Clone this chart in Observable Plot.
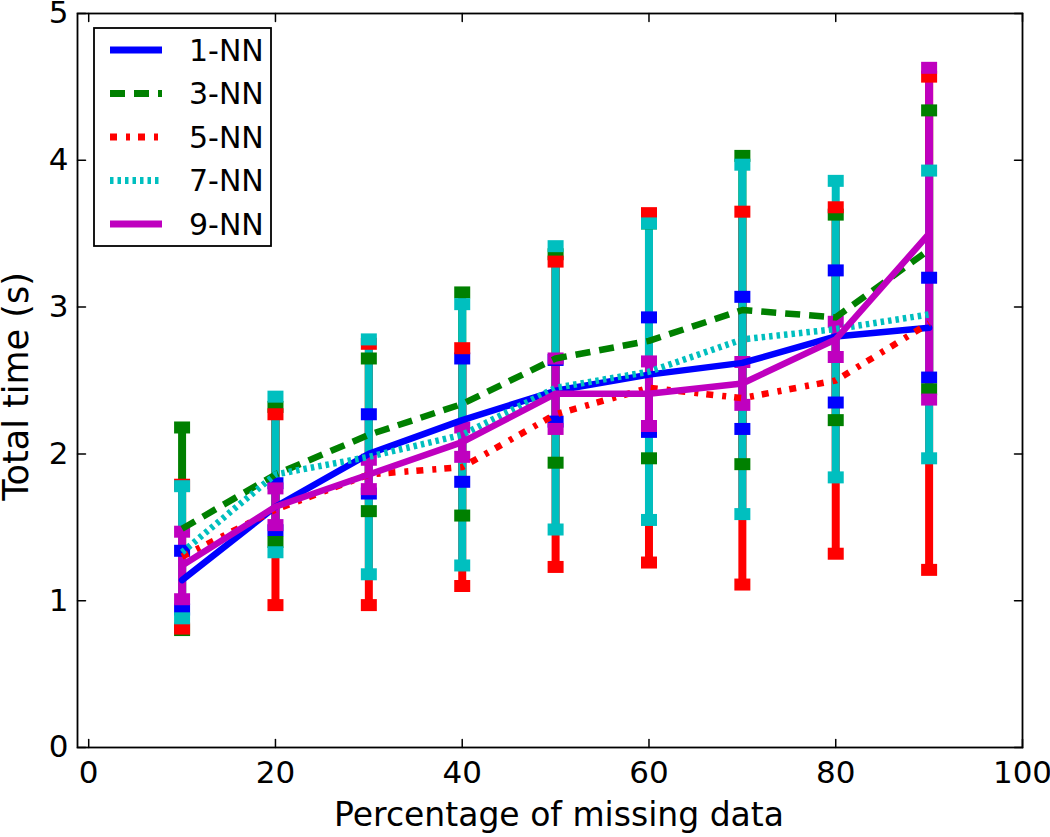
<!DOCTYPE html>
<html>
<head>
<meta charset="utf-8">
<script src="https://cdn.jsdelivr.net/npm/d3@7"></script>
<script src="https://cdn.jsdelivr.net/npm/@observablehq/plot@0.6"></script>
<style>
  html, body { margin: 0; padding: 0; background: #fff; }
  #wrap { position: relative; width: 1050px; height: 837px; font-family: "DejaVu Sans", sans-serif; }
  #legend { position: absolute; left: 93px; top: 27px; }
</style>
</head>
<body>
<div id="wrap"></div>
<script>
// ---- data ----
const missing = [10, 20, 30, 40, 50, 60, 70, 80, 90];
const seriesNames = ["1-NN", "3-NN", "5-NN", "7-NN", "9-NN"];
const seriesColors = ["#0000ff", "#008000", "#ff0000", "#00bfbf", "#bf00bf"];
const seriesDash = [null, "15,9", "7,9,4,8", "3.5,4", null];

const mean1 = [1.14, 1.64, 2.00, 2.23, 2.43, 2.54, 2.62, 2.80, 2.86];
const sd1   = [0.20, 0.16, 0.27, 0.42, 0.21, 0.39, 0.45, 0.45, 0.34];
const mean3 = [1.49, 1.86, 2.13, 2.34, 2.65, 2.77, 2.98, 2.93, 3.39];
const sd3   = [0.69, 0.46, 0.52, 0.76, 0.71, 0.80, 1.05, 0.70, 0.95];
const mean5 = [1.30, 1.62, 1.86, 1.91, 2.27, 2.45, 2.38, 2.50, 2.89];
const sd5   = [0.49, 0.65, 0.89, 0.81, 1.04, 1.19, 1.27, 1.18, 1.68];
const mean7 = [1.33, 1.86, 1.98, 2.13, 2.45, 2.56, 2.78, 2.85, 2.95];
const sd7   = [0.45, 0.53, 0.80, 0.89, 0.965, 1.01, 1.19, 1.01, 0.98];
const mean9 = [1.24, 1.64, 1.86, 2.08, 2.41, 2.41, 2.48, 2.78, 3.50];
const sd9   = [0.23, 0.125, 0.10, 0.10, 0.24, 0.22, 0.146, 0.12, 1.13];

const xTicks = [0, 20, 40, 60, 80, 100];
const yTicks = [0, 1, 2, 3, 4, 5];
const xLabel = "Percentage of missing data";
const yLabel = "Total time (s)";

// ---- build table ----
const means = [mean1, mean3, mean5, mean7, mean9];
const sds = [sd1, sd3, sd5, sd7, sd9];
const rows = [];
seriesNames.forEach((s, k) => {
  missing.forEach((x, i) => {
    rows.push({series: s, x, mean: means[k][i], lo: means[k][i] - sds[k][i], hi: means[k][i] + sds[k][i]});
  });
});
const caps = rows.flatMap(d => [{series: d.series, x: d.x, y: d.lo}, {series: d.series, x: d.x, y: d.hi}]);

const capSymbol = {draw(context) { context.rect(-8, -6, 16, 12); }};
const tickShape = {draw(context, l) { context.moveTo(0, 0); context.lineTo(0, -l); }};

const lineMarks = seriesNames.map((s, k) =>
  Plot.line(rows.filter(d => d.series === s), {
    x: "x", y: "mean", stroke: seriesColors[k], strokeWidth: 6.5,
    strokeDasharray: seriesDash[k] ?? undefined,
    strokeLinecap: seriesDash[k] ? "butt" : "round", strokeLinejoin: "round"
  })
);

const tickOpts = {shape: tickShape, length: 8, anchor: "start", stroke: "black", strokeWidth: 1.5};

const chart = Plot.plot({
  width: 1050,
  height: 837,
  marginLeft: 77,
  marginRight: 28,
  marginTop: 13,
  marginBottom: 90,
  style: {fontFamily: "DejaVu Sans, sans-serif", fontSize: "31px", color: "black", background: "white", overflow: "visible"},
  x: {domain: [-1.2, 100], ticks: xTicks, tickFormat: d3.format("d"), tickSize: 0, tickPadding: 13, label: null},
  y: {domain: [0, 5], ticks: yTicks, tickFormat: d3.format("d"), tickSize: 0, tickPadding: 9, label: null},
  color: {domain: seriesNames, range: seriesColors},
  marks: [
    Plot.ruleX(rows, {x: "x", y1: "lo", y2: "hi", stroke: "series", strokeWidth: 8}),
    Plot.dot(caps, {x: "x", y: "y", fill: "series", symbol: capSymbol, r: 6}),
    ...lineMarks,
    Plot.vector(xTicks, {x: d => d, frameAnchor: "bottom", rotate: 0, ...tickOpts}),
    Plot.vector(xTicks, {x: d => d, frameAnchor: "top", rotate: 180, ...tickOpts}),
    Plot.vector(yTicks, {y: d => d, frameAnchor: "left", rotate: 90, ...tickOpts}),
    Plot.vector(yTicks, {y: d => d, frameAnchor: "right", rotate: 270, ...tickOpts}),
    Plot.frame({stroke: "black", strokeWidth: 1.8}),
    Plot.text([xLabel], {text: d => d, frameAnchor: "bottom", dy: 68, dx: 9, textAnchor: "middle", lineAnchor: "middle", fontSize: 33}),
    Plot.text([yLabel], {text: d => d, frameAnchor: "left", dx: -61, dy: 6, rotate: -90, textAnchor: "middle", lineAnchor: "middle", fontSize: 35})
  ]
});

const wrap = document.getElementById("wrap");
wrap.appendChild(chart);

// ---- legend (overlay, built from the series arrays) ----
const lw = 179, lh = 220;
const legend = d3.select(wrap).append("svg")
  .attr("id", "legend").attr("width", lw).attr("height", lh)
  .style("font-family", "DejaVu Sans, sans-serif");
legend.append("rect").attr("x", 1).attr("y", 1).attr("width", lw - 2).attr("height", lh - 2)
  .attr("fill", "white").attr("stroke", "black").attr("stroke-width", 1.8);
const rowY = d3.scalePoint().domain(seriesNames).range([23, 197]);
const item = legend.selectAll("g.item").data(seriesNames).join("g").attr("class", "item")
  .attr("transform", d => `translate(0,${rowY(d)})`);
item.append("line").attr("x1", 17).attr("x2", 69).attr("y1", 0).attr("y2", 0)
  .attr("stroke", (d, i) => seriesColors[i]).attr("stroke-width", 7)
  .attr("stroke-dasharray", (d, i) => seriesDash[i])
  .attr("stroke-linecap", "butt");
item.append("text").attr("x", 96).attr("y", 0).attr("dy", "0.36em")
  .attr("font-size", 30).attr("fill", "black").text(d => d);
</script>
</body>
</html>
